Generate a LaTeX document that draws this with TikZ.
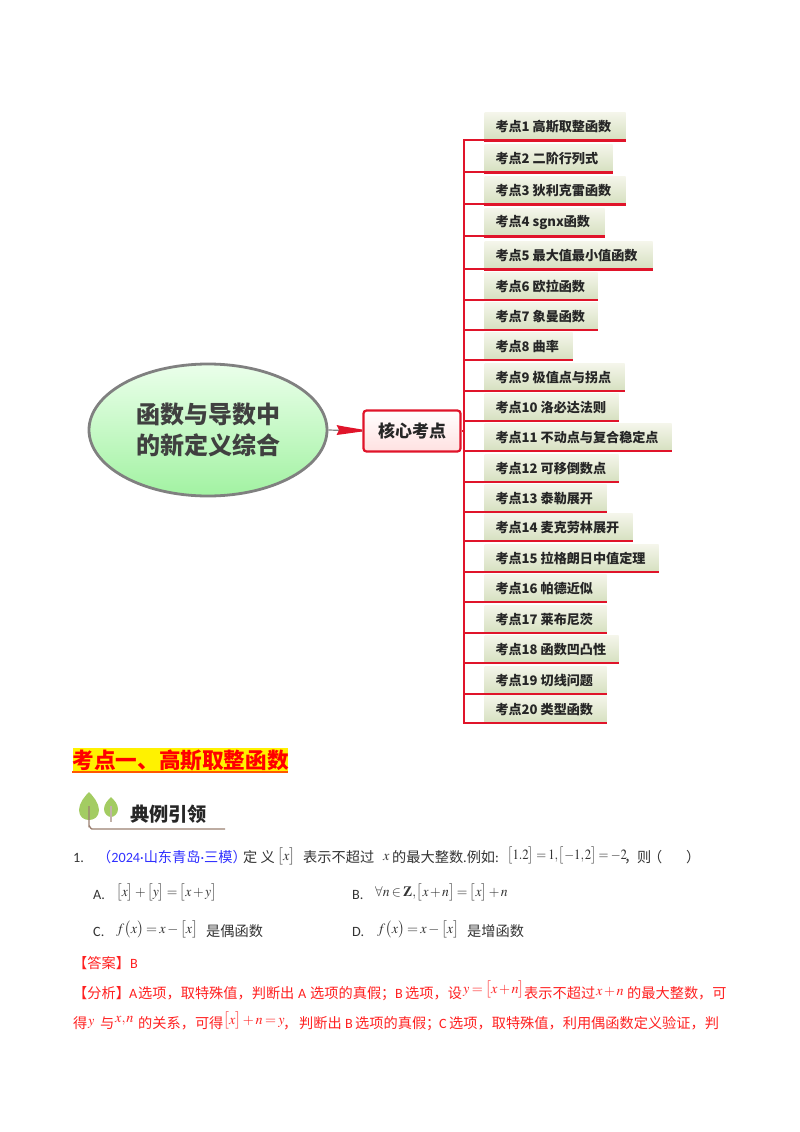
\documentclass[tikz,border=0pt]{standalone}
\usepackage{amsmath}
\usepackage{amssymb}
\usepackage{mathptmx}
\usepackage{fontspec}
\usetikzlibrary{positioning,shapes.geometric}
\setmainfont{Noto Sans CJK SC}
\newfontfamily\latinfont{Carlito}
\thinmuskip=1mu
\medmuskip=2mu
\thickmuskip=3mu
\definecolor{linered}{HTML}{E0142A}
\definecolor{inkgray}{HTML}{333333}
\definecolor{ansred}{HTML}{FF2020}
\definecolor{srcblue}{HTML}{3030FF}
\definecolor{leaf}{HTML}{A3CC62}
\definecolor{bark}{HTML}{9A7F70}
\definecolor{boxtop}{HTML}{F4F5EA}
\definecolor{boxbot}{HTML}{D6E0C0}
\tikzset{
  root node/.style={ellipse,draw=gray,line width=2.8pt,top color=green!8!white,bottom color=green!35!white!90!gray,
    minimum width=238pt,minimum height=132pt,inner sep=0pt,align=center,text=black!75,
    font=\fontsize{24}{31}\selectfont\bfseries},
  core node/.style={rectangle,rounded corners=3pt,draw=linered,line width=2.2pt,top color=white,bottom color=red!12!white,
    minimum width=97pt,minimum height=41pt,inner sep=0pt,font=\fontsize{17}{17}\selectfont\bfseries,text=black!85},
  main node/.style={rectangle,anchor=south west,top color=boxtop,bottom color=boxbot,
    minimum height=27pt,inner sep=0pt},
  topic/.style={anchor=west,inner sep=0pt,font=\fontsize{13.1}{13}\selectfont\bfseries,text=black!85},
  branch/.style={draw=linered,line width=2pt},
  word/.style={anchor=base west,inner sep=0pt,text=inkgray,font=\fontsize{14.2}{15}\selectfont},
  ans/.style={word,text=ansred},
}
\newcommand{\lt}[1]{{\latinfont #1}}
\begin{document}
\begin{tikzpicture}[x=1pt,y=-1pt]
  \useasboundingbox (0,0) rectangle (800,1132);

  \node[root node] (root) at (208,430) {\raisebox{-1pt}{函数与导数中}\\\raisebox{-1pt}{的新定义综合}};
  \node[core node] (core) at (412,431) {\raisebox{-1.5pt}{核心考点}};
  \coordinate (trunk) at (464,431);

  \draw[gray,line width=1.2pt] (root.east) -- (core.west);
  \fill[linered] (336.5,425) -- (344,426.5) -- (362,429.5) -- (362,431.5) -- (344,434) -- (336.5,435) -- (339,430) -- cycle;

  % topics
  \foreach \idx/\ypos/\wid/\lw/\lab in {
    1/140/141/3/考点1 高斯取整函数, 2/172/128/3/考点2 二阶行列式, 3/204/141/3/考点3 狄利克雷函数,
    4/236/120/3/考点4 sgnx函数, 5/269/168/3/考点5 最大值最小值函数, 6/300/113/2/考点6 欧拉函数,
    7/330/113/2/考点7 象曼函数, 8/360/88/2/考点8 曲率, 9/391/140/2/考点9 极值点与拐点,
    10/421/134/2/考点10 洛必达法则, 11/451/187/2/考点11 不动点与复合稳定点, 12/482/134/2/考点12 可移倒数点,
    13/512/122/2/考点13 泰勒展开, 14/541/148/2/考点14 麦克劳林展开, 15/572/174/2/考点15 拉格朗日中值定理,
    16/602/122/2/考点16 帕德近似, 17/633/122/2/考点17 莱布尼茨, 18/663/134/2/考点18 函数凹凸性,
    19/694/122/2/考点19 切线问题, 20/723/122/2/考点20 类型函数}{
    \node[main node,minimum width=\wid pt] (k\idx) at (484.3,\ypos) {};
    \node[topic] (t\idx) at ([xshift=11pt,yshift=-0.5pt]k\idx.west) {\lab};
    \draw[branch] (trunk) |- (k\idx.south west);
    \draw[draw=linered,line width=\lw pt] (k\idx.south west) -- (k\idx.south east);
  }
  \draw[branch] (core.east) -- (trunk);

  % heading
  \node[rectangle,fill=yellow,anchor=north west,minimum width=215.5pt,minimum height=25pt,inner sep=0pt] (headbox) at (72.3,748) {};
  \fill[orange!70!red] (72.3,771) rectangle (287.8,773);
  \node[anchor=west,inner sep=0pt,text=red,font=\fontsize{21.6}{22}\selectfont\bfseries] (head) at (72.5,760.5) {考点一、高斯取整函数};

  % tree icon
  \fill[leaf] (89,792) .. controls (93,796) and (99,803) .. (99,810) .. controls (99,817) and (94,820) .. (89,820) .. controls (84,820) and (79,817) .. (79,810) .. controls (79,803) and (85,796) .. cycle;
  \fill[leaf] (111,797) .. controls (114,800) and (118,804) .. (118,809) .. controls (118,814) and (114,817) .. (111,817) .. controls (108,817) and (104,814) .. (104,809) .. controls (104,804) and (108,800) .. cycle;
  \draw[bark,line width=1.4pt] (89,806) -- (89,826) to[out=90,in=180] (92,829) -- (225,829);
  \draw[bark!60!white,line width=1.3pt] (111,806) -- (111,822);
  \node[anchor=west,inner sep=0pt,text=black!85,font=\fontsize{19.2}{20}\selectfont\bfseries] (lead) at (130,814) {典例引领};

  % question
  \node[word] (q1) at (73,862) {\lt{1.}};
  \node[word,text=srcblue] (q2) at (97,862) {（\lt{2024·}山东青岛\lt{·}三模）};
  \node[word] (q3) at (243,862) {定 义};
  \node[word] (q4) at (277,860) {$\bigl[x\bigr]$};
  \node[word] (q5) at (303,862) {表示不超过};
  \node[word] (q6) at (383,860) {$x$};
  \node[word] (q7) at (392,862) {的最大整数\lt{.}例如\lt{:}};
  \node[word] (q8) at (507,859) {\scalebox{0.9}[1]{$\bigl[1.2\bigr]=1,\bigl[-1,2\bigr]=-2$}};
  \node[word] (q9) at (624,862) {，};
  \node[word] (q10) at (637,862) {则};
  \node[word] (q12) at (648,862) {（};
  \node[word] (q11) at (686,862) {）};

  \node[word] (a0) at (93,899) {\lt{A.}};
  \node[word] (a1) at (116,896) {\scalebox{0.96}[1]{$\bigl[x\bigr]+\bigl[y\bigr]=\bigl[x+y\bigr]$}};
  \node[word] (b0) at (352,899) {\lt{B.}};
  \node[word] (b1) at (375,896) {\scalebox{0.96}[1]{$\forall n\in\mathbf{Z},\bigl[x+n\bigr]=\bigl[x\bigr]+n$}};
  \node[word] (c0) at (93,936) {\lt{C.}};
  \node[word] (c1) at (116,933) {$f\bigl(x\bigr)=x-\bigl[x\bigr]$};
  \node[word] (c2) at (206,936) {是偶函数};
  \node[word] (d0) at (352,936) {\lt{D.}};
  \node[word] (d1) at (377,933) {$f\bigl(x\bigr)=x-\bigl[x\bigr]$};
  \node[word] (d2) at (467,936) {是增函数};

  % answer
  \node[ans] (r1) at (73,968) {【答案】\lt{B}};
  \node[ans] (r2) at (73,998) {【分析】};
  \node[ans] (r3) at (129,998) {\lt{A}};
  \node[ans] (r4) at (138,998) {选项，取特殊值，判断出};
  \node[ans] (r5) at (298,998) {\lt{A}};
  \node[ans] (r6) at (310,998) {选项的真假；};
  \node[ans] (r7) at (395,998) {\lt{B}};
  \node[ans] (r8) at (405,998) {选项，设};
  \node[ans] (r9) at (463,993) {$y=\bigl[x+n\bigr]$};
  \node[ans] (r10) at (524,998) {表示不超过};
  \node[ans] (r11) at (596,995) {$x+n$};
  \node[ans] (r12) at (627,998) {的最大整数，可};
  \node[ans] (s1) at (73,1028) {得};
  \node[ans] (s2) at (88,1025) {$y$};
  \node[ans] (s3) at (100,1028) {与};
  \node[ans] (s4) at (115,1022) {$x,n$};
  \node[ans] (s5) at (138,1028) {的关系，可得};
  \node[ans] (s6) at (223,1024) {$\bigl[x\bigr]+n=y$};
  \node[ans] (s7) at (283,1028) {，};
  \node[ans] (s8) at (299,1028) {判断出};
  \node[ans] (s9) at (345,1028) {\lt{B}};
  \node[ans] (s10) at (355,1028) {选项的真假；};
  \node[ans] (s11) at (439,1028) {\lt{C}};
  \node[ans] (s12) at (449,1028) {选项，取特殊值，利用偶函数定义验证，判};
\end{tikzpicture}
\end{document}
